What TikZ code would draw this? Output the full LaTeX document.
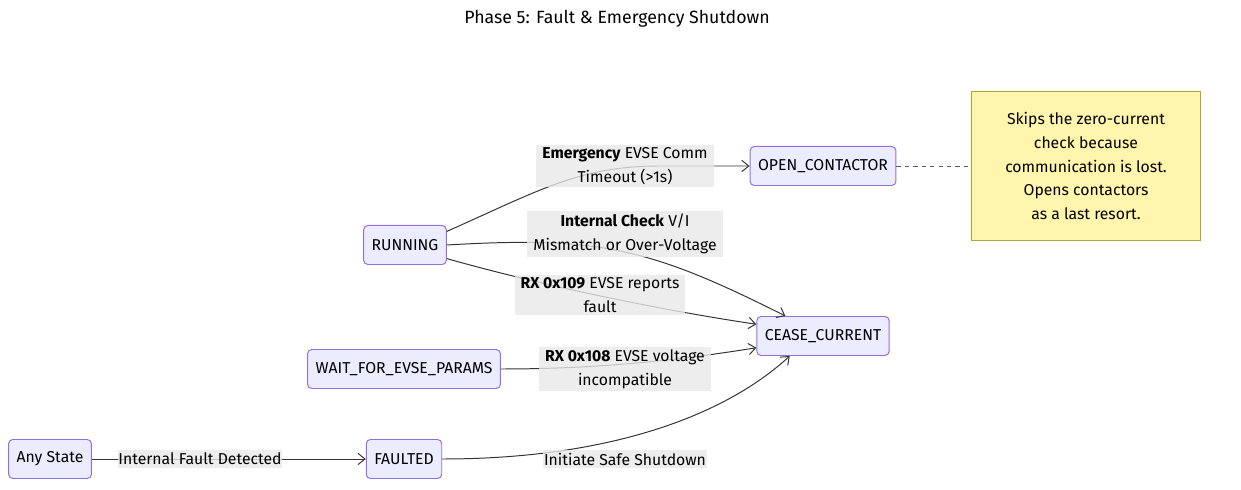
\documentclass[tikz,border=0pt]{standalone}
\usepackage{fontspec}
\setmainfont{Fira Sans}
\usetikzlibrary{arrows.meta,positioning}
\definecolor{stfill}{HTML}{ECECFF}
\definecolor{stline}{HTML}{9370DB}
\definecolor{notefill}{HTML}{FFF5AD}
\definecolor{noteline}{HTML}{AAAA33}
\definecolor{lblfill}{HTML}{E8E8E8}
\definecolor{edgecol}{HTML}{333333}
\begin{document}
\begin{tikzpicture}[x=0.025cm,y=-0.025cm,
  every node/.style={font=\fontsize{11.2}{17}\selectfont},
  state/.style={rectangle,draw=stline,fill=stfill,rounded corners=3pt,line width=0.7pt,
                minimum height=0.975cm,inner xsep=0.2cm,text=black},
  lbl/.style={rectangle,fill=lblfill,fill opacity=0.8,text opacity=1,align=center,
              inner xsep=0.15cm,inner ysep=2pt},
  note/.style={rectangle,draw=noteline,fill=notefill,line width=0.7pt,align=center,
               minimum width=5.7cm,minimum height=3.725cm},
  arrow/.style={-{Straight Barb[length=5pt,width=8pt]},draw=edgecol,line width=0.7pt}
]
\useasboundingbox (0,0) rectangle (1241,490);
\node[font=\fontsize{12.6}{17}\selectfont] (title) at (617,19) {Phase 5: Fault \& Emergency Shutdown};

\node[state] (running) at (405,245) {RUNNING};
\node[state] (opencont) at (823,166) {OPEN\_CONTACTOR};
\node[state] (cease) at (823,336) {CEASE\_CURRENT};
\node[state] (waitparams) at (404,369) {WAIT\_FOR\_EVSE\_PARAMS};
\node[state] (anystate) at (50,459) {Any State};
\node[state] (faulted) at (404,459) {FAULTED};
\node[note] (opennote) at (1086,166) {Skips the zero-current\\check because\\communication is lost.\\Opens contactors\\as a last resort.};

% transitions
\draw[arrow] (running.18) .. controls (540,190) and (580,166) .. (660,166) -- (opencont.west);
\draw[arrow] (running.east) .. controls (600,236) and (650,248) .. (cease.152);
\draw[arrow] (running.-18) .. controls (540,285) and (660,310) .. (cease.170);
\draw[arrow] (waitparams.east) .. controls (600,369) and (680,360) .. (cease.190);
\draw[arrow] (anystate) -- (faulted);
\draw[arrow] (faulted.east) .. controls (600,459) and (720,420) .. (cease.211);
\draw[edgecol!80,dashed,line width=0.7pt] (opencont.east) -- (opennote.west);

% edge labels
\node[lbl] (lblemerg) at (625,166) {\textbf{Emergency} EVSE Comm\\Timeout (>1s)};
\node[lbl] (lblcheck) at (625,234) {\textbf{Internal Check} V/I\\Mismatch or Over-Voltage};
\node[lbl] (lblfault) at (600,295) {\textbf{RX 0x109} EVSE reports\\fault};
\node[lbl] (lblvolt) at (625,369) {\textbf{RX 0x108} EVSE voltage\\incompatible};
\node[lbl,inner xsep=0.5pt] (lbldetect) at (200,459) {Internal Fault Detected};
\node[lbl,inner xsep=0.5pt] (lblsafe) at (625,459) {Initiate Safe Shutdown};
\end{tikzpicture}
\end{document}
